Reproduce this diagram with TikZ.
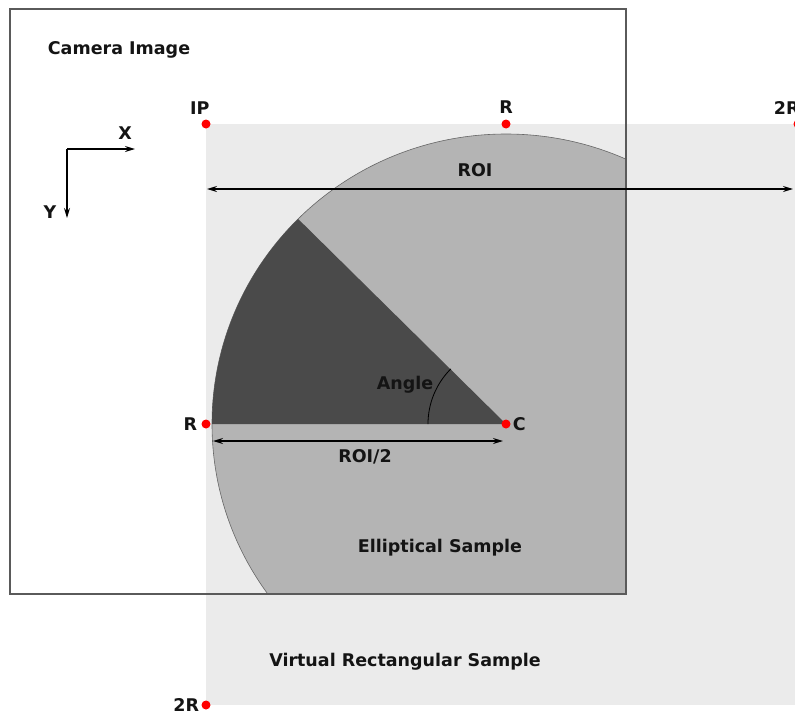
\documentclass[tikz,border=0pt]{standalone}
\usepackage{fontspec}
\setmainfont{DejaVu Sans}
\usetikzlibrary{positioning,arrows.meta}

\definecolor{virtgray}{RGB}{235,235,235}
\definecolor{ellgray}{RGB}{180,180,180}
\definecolor{sectgray}{RGB}{74,74,74}
\definecolor{framegray}{RGB}{90,90,90}

\tikzset{
  spot/.style={circle, fill=red, inner sep=0pt, minimum size=9pt},
  tag/.style={font=\fontsize{17.5}{19}\selectfont\bfseries, text=black!92, inner sep=1pt},
  dim/.style={{Stealth[length=10pt,width=6pt]}-{Stealth[length=10pt,width=6pt]}, line width=1.4pt},
  axis/.style={-{Stealth[length=10pt,width=6pt]}, line width=1.4pt},
}

\begin{document}
\begin{tikzpicture}[x=1pt, y=-1pt]

      \useasboundingbox (0,0) rectangle (795,715);

      % camera image and virtual sample
      \fill[white] (10,9) rectangle (626,594);
      \fill[virtgray] (206,124) rectangle (810,705);

      \begin{scope}
        \clip (10,9) rectangle (626,594);
        \draw[fill=ellgray, draw=black!60, line width=0.6pt] (506,424) ellipse [x radius=294, y radius=290];
        \fill[sectgray] (506,424) -- (212,424)
          arc[start angle=180, end angle=225, x radius=294, y radius=290] -- cycle;
        \draw[line width=0.8pt] (428,424) arc[start angle=180, end angle=225, radius=78];
      \end{scope}

      \draw[framegray, line width=1.2pt] (10,9) rectangle (626,594);

      \begin{scope}[every node/.style={spot}]
        \node (ip)  at (206,124) {};
        \node (rt)  at (506,124) {};
        \node (2rt) at (798,124) {};
        \node (rl)  at (206,424) {};
        \node (c)   at (506,424) {};
        \node (2rb) at (206,705) {};
      \end{scope}

      \begin{scope}[every node/.style={tag}]
        \node[above left=5pt and -8pt of ip] {IP};
        \node[above=5pt of rt] {R};
        \node[above left=5pt and -6pt of 2rt] {2R};
        \node[left=3pt of rl] {R};
        \node[right=1pt of c] {C};
        \node[left=1pt of 2rb] {2R};

        \node (cam)  at (119,50)  {Camera Image};
        \node (roi)  at (475,170) {ROI};
        \node (half) at (365,457) {ROI/2};
        \node (ang)  at (405,385) {Angle};
        \node (ell)  at (440,548) {Elliptical Sample};
        \node (virt) at (405,662) {Virtual Rectangular Sample};
        \node (xl)   at (125,133) {X};
        \node (yl)   at (50,212)  {Y};
      \end{scope}

      % axes
      \coordinate (o) at (67,149);
      \coordinate (xend) at (135,149);
      \coordinate (yend) at (67,218);
      \draw[axis] (o) -- (xend);
      \draw[axis] (o) -- (yend);

      % dimensions
      \coordinate (roiL) at (207,189);
      \coordinate (roiR) at (793,189);
      \coordinate (halfL) at (213,441);
      \coordinate (halfR) at (503,441);
      \draw[dim] (roiL) -- (roiR);
      \draw[dim] (halfL) -- (halfR);

\end{tikzpicture}
\end{document}
